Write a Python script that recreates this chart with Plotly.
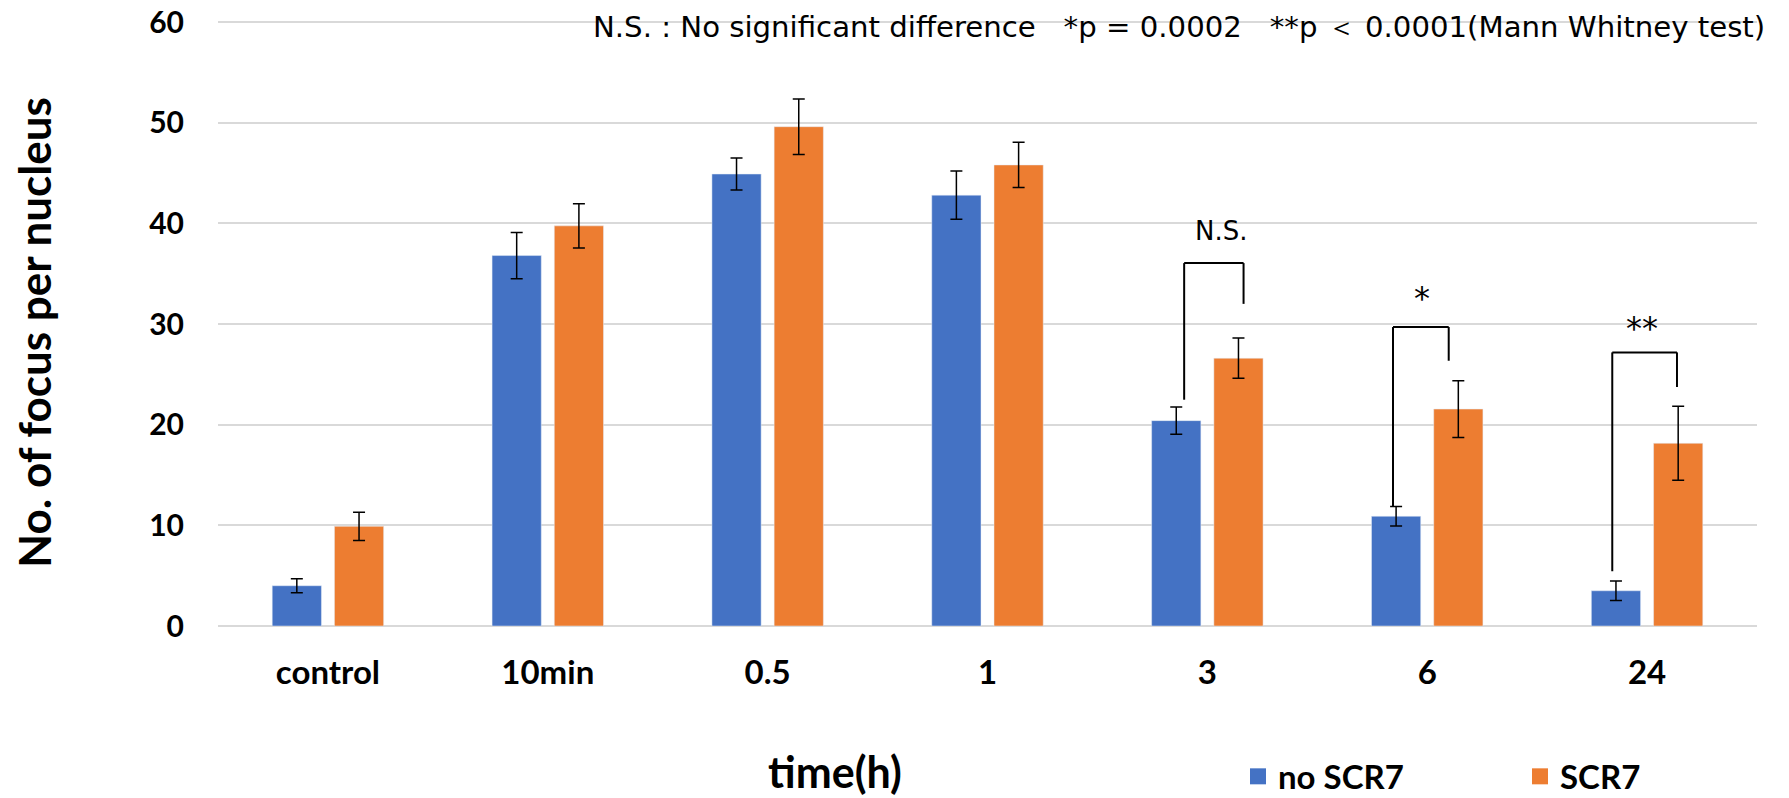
import plotly.graph_objects as go

# ---------------- data ----------------
categories = ["control", "10min", "0.5", "1", "3", "6", "24"]
no_scr7 = [4.0, 36.8, 44.9, 42.8, 20.4, 10.9, 3.5]
no_scr7_err = [0.7, 2.3, 1.6, 2.4, 1.35, 0.96, 0.96]
scr7 = [9.9, 39.75, 49.6, 45.8, 26.6, 21.55, 18.15]
scr7_err = [1.4, 2.2, 2.75, 2.25, 2.0, 2.82, 3.67]

# significance brackets (data units)
bracket_cats = ["3", "6", "24"]
bracket_labels = ["N.S.", "*", "**"]
bracket_top = [36.05, 29.7, 27.18]
bracket_left_end = [22.48, 11.83, 5.44]
bracket_right_end = [32.0, 26.35, 23.74]
label_y = [39.2, 32.6, 29.6]

note_text = "N.S. : No significant difference   *p = 0.0002   **p ＜ 0.0001(Mann Whitney test)"

BLUE = "#4472C4"
ORANGE = "#ED7D31"
FONT = "Lato"

# page geometry (the body margin is removed by the post script below)
W, H = 1789, 798
L, R, T, B = 218, 32, 20, 171.5
PW, PH = W - L - R, H - T - B
Y_TOP = 60.2


def px_x(x):  # screen px -> paper
    return (x - L) / PW


def px_y(y):  # screen px -> paper
    return (H - B - y) / PH


fig = go.Figure()
fig.add_trace(go.Bar(
    x=categories, y=no_scr7, name="no SCR7", marker_color=BLUE, showlegend=False,
    legendgroup="a",
    error_y=dict(type="data", array=no_scr7_err, color="#000000", thickness=1.5, width=6),
))
fig.add_trace(go.Bar(
    x=categories, y=scr7, name="SCR7", marker_color=ORANGE, showlegend=False,
    legendgroup="b",
    error_y=dict(type="data", array=scr7_err, color="#000000", thickness=1.5, width=6),
))
# legend entries with larger square swatches
fig.add_trace(go.Scatter(x=[None], y=[None], mode="markers", name="no SCR7", legendgroup="a",
                         marker=dict(symbol="square", size=20, color=BLUE)))
fig.add_trace(go.Scatter(x=[None], y=[None], mode="markers", name="SCR7", legendgroup="b",
                         marker=dict(symbol="square", size=20, color=ORANGE)))

# bracket geometry (category index units)
PX = 7 / PW
bar_off = 31.2 * PX
leg_tweak_left = [8 * PX, -3 * PX, -3.6 * PX]
leg_tweak_right = [5 * PX, -9.7 * PX, -1.3 * PX]
label_tweak = [14 * PX, -5 * PX, -5 * PX]

shapes = []
annotations = []
for i, c in enumerate(bracket_cats):
    idx = categories.index(c)
    xl = idx - bar_off + leg_tweak_left[i]
    xr = idx + bar_off + leg_tweak_right[i]
    line = dict(color="#000000", width=2)
    shapes.append(dict(type="line", xref="x", yref="y", x0=xl, x1=xl,
                       y0=bracket_left_end[i], y1=bracket_top[i], line=line))
    shapes.append(dict(type="line", xref="x", yref="y", x0=xl, x1=xr,
                       y0=bracket_top[i], y1=bracket_top[i], line=line))
    shapes.append(dict(type="line", xref="x", yref="y", x0=xr, x1=xr,
                       y0=bracket_top[i], y1=bracket_right_end[i], line=line))
    annotations.append(dict(
        x=idx + label_tweak[i], y=label_y[i], xref="x", yref="y",
        text=bracket_labels[i], showarrow=False, xanchor="center", yanchor="middle",
        font=dict(family="DejaVu Sans", size=26 if i == 0 else 32, color="#000000"),
    ))

annotations.append(dict(
    x=1.0, y=px_y(27), xref="paper", yref="paper", text=note_text, showarrow=False,
    xanchor="right", yanchor="middle", xshift=10,
    font=dict(family="DejaVu Sans", size=29.2, color="#000000"),
))
# axis titles
annotations.append(dict(
    x=px_x(34), y=px_y(333), xref="paper", yref="paper",
    text="No. of focus per nucleus", textangle=-90, showarrow=False,
    xanchor="center", yanchor="middle",
    font=dict(family=FONT, size=44, color="#000000", weight=700),
))
annotations.append(dict(
    x=px_x(835), y=px_y(772), xref="paper", yref="paper",
    text="time(h)", showarrow=False, xanchor="center", yanchor="middle",
    font=dict(family=FONT, size=43, color="#000000", weight=700),
))

fig.update_layout(
    width=W, height=H,
    margin=dict(l=L, r=R, t=T, b=B, pad=0, autoexpand=False),
    paper_bgcolor="#FFFFFF", plot_bgcolor="#FFFFFF",
    barmode="group", bargap=0.434, bargroupgap=0.209,
    shapes=shapes, annotations=annotations,
    legend=dict(
        orientation="h", x=px_x(1238), xanchor="left",
        y=px_y(777), yanchor="middle",
        font=dict(family=FONT, size=33, color="#000000", weight=700),
        entrywidth=237, itemsizing="trace", bgcolor="rgba(0,0,0,0)",
    ),
    xaxis=dict(
        type="category", showgrid=False, showline=False, zeroline=False,
        ticks="", tickfont=dict(family=FONT, size=33, color="#000000", weight=700),
        ticklabelstandoff=24, automargin=False,
    ),
    yaxis=dict(
        range=[0, Y_TOP], tickvals=[0, 10, 20, 30, 40, 50, 60], showgrid=True,
        gridcolor="#D9D9D9", gridwidth=1.5,
        zeroline=True, zerolinecolor="#D9D9D9", zerolinewidth=1.5, showline=False,
        ticks="", tickfont=dict(family=FONT, size=30, color="#000000", weight=700),
        ticklabelstandoff=33, automargin=False,
    ),
)

fig.write_html("out.html", config={"displayModeBar": False},
               post_script="document.body.style.margin='0px';")
